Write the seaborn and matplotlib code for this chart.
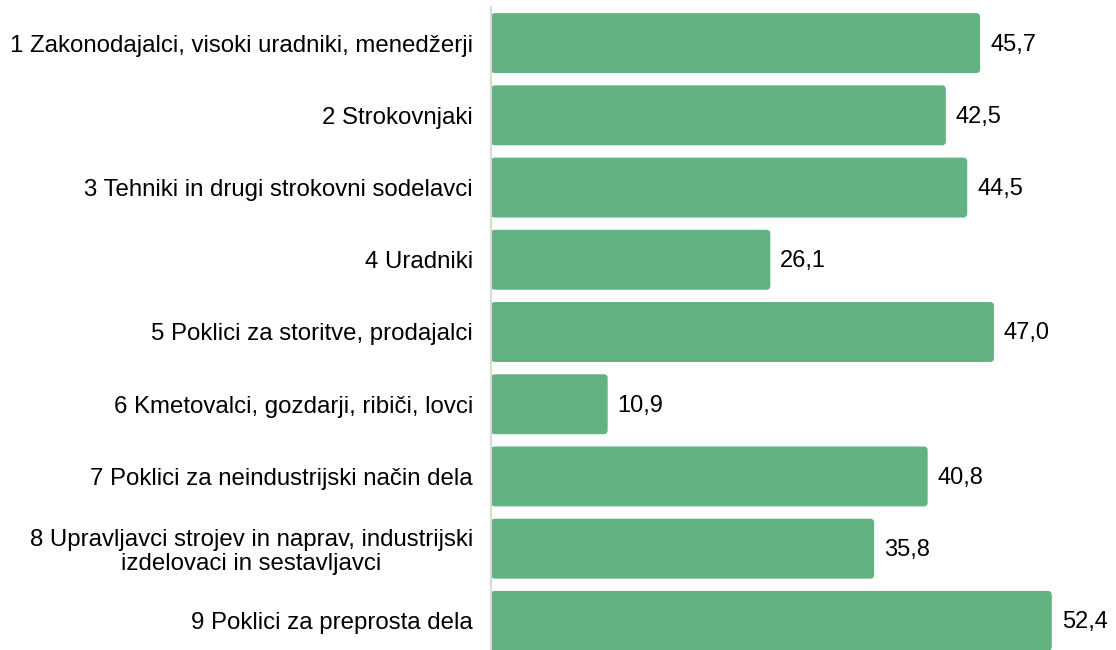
import numpy as np
import pandas as pd
import seaborn as sns
import matplotlib.pyplot as plt
from matplotlib.patches import FancyBboxPatch

# podatki
categories = [
    "1 Zakonodajalci, visoki uradniki, menedžerji",
    "2 Strokovnjaki",
    "3 Tehniki in drugi strokovni sodelavci",
    "4 Uradniki",
    "5 Poklici za storitve, prodajalci",
    "6 Kmetovalci, gozdarji, ribiči, lovci",
    "7 Poklici za neindustrijski način dela",
    "8 Upravljavci strojev in naprav, industrijski\nizdelovaci in sestavljavci",
    "9 Poklici za preprosta dela",
]
values = [45.7, 42.5, 44.5, 26.1, 47.0, 10.9, 40.8, 35.8, 52.4]

df = pd.DataFrame({"poklic": categories, "delez": values})

sns.set_style("white")
plt.rcParams["font.family"] = ["Liberation Sans", "DejaVu Sans"]

bar_color = "#62b282"
fs = 17.3

fig = plt.figure(figsize=(11.16, 6.5), dpi=100)
ax = fig.add_axes([491 / 1116, -7 / 650, 625 / 1116, 1.0])

sns.barplot(data=df, y="poklic", x="delez", orient="h", color=bar_color,
            width=0.83, ax=ax)

ax.set_xlim(0, 58.4)
ax.set_ylim(len(categories) - 0.5, -0.5)

# zaobljeni robovi - zamenjaj pravokotnike
xpp = 58.4 / 625
ypp = 9 / 650
rects = list(ax.patches)
for r in rects:
    x0, y0 = r.get_x(), r.get_y()
    w, h = r.get_width(), r.get_height()
    r.set_visible(False)
    fb = FancyBboxPatch((x0, y0), w, h,
                        boxstyle=f"round,pad=0,rounding_size={4 * xpp}",
                        mutation_aspect=ypp / xpp,
                        facecolor=bar_color, edgecolor="none")
    ax.add_patch(fb)

for i, v in enumerate(values):
    ax.text(v + 10 * xpp, i + 0.02, f"{v:.1f}".replace(".", ","), va="center",
            ha="left", fontsize=17, color="black")

ax.set_xlabel("")
ax.set_ylabel("")
ax.set_xticks([])
ax.tick_params(axis="y", length=0, pad=13, labelsize=fs, labelcolor="black")
for lbl in ax.get_yticklabels():
    lbl.set_multialignment("center")
    lbl.set_linespacing(1.1)

for s in ["top", "right", "bottom"]:
    ax.spines[s].set_visible(False)
ax.spines["left"].set_color("#d9d9d9")
ax.spines["left"].set_linewidth(1.5)

fig.savefig("out.png", dpi=100)
